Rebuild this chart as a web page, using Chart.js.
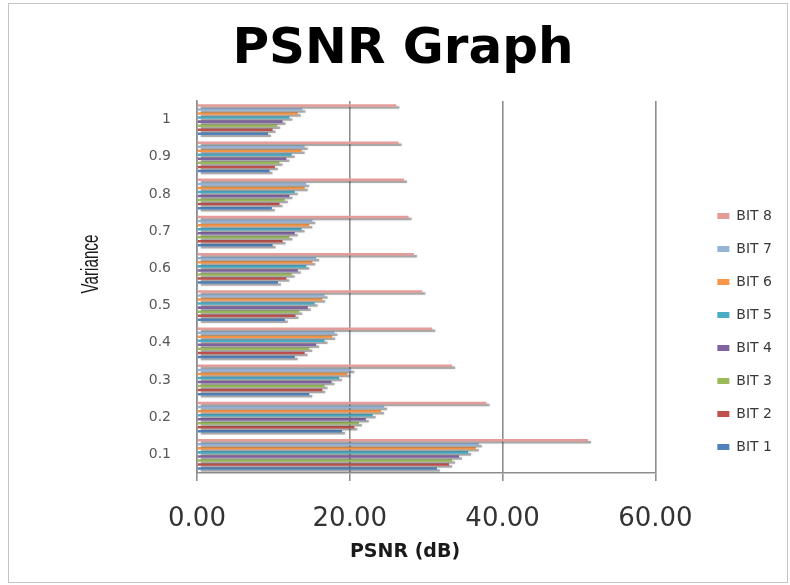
<!DOCTYPE html>
<html>
<head>
<meta charset="utf-8">
<title>PSNR Graph</title>
<script src="https://cdn.jsdelivr.net/npm/chart.js@4.4.1/dist/chart.umd.min.js"></script>
<style>
  html, body { margin: 0; padding: 0; background: #ffffff; }
  #wrap { width: 790px; height: 585px; }
</style>
</head>
<body>
<div id="wrap"><canvas id="psnr" width="790" height="585"></canvas></div>
<script>
// Noise variance levels (category axis)
const varianceLabels = ['0.1', '0.2', '0.3', '0.4', '0.5', '0.6', '0.7', '0.8', '0.9', '1'];

// PSNR in dB for each bit plane, one value per variance level
const bit1 = [31.4, 19.0, 14.7, 12.8, 11.5, 10.6, 9.9, 9.8, 9.5, 9.3];
const bit2 = [33.0, 20.6, 16.4, 14.1, 12.9, 11.7, 11.2, 10.8, 10.2, 9.9];
const bit3 = [33.4, 21.2, 16.7, 14.7, 13.4, 12.4, 12.1, 11.5, 10.8, 10.5];
const bit4 = [34.3, 22.1, 17.6, 15.6, 14.5, 13.2, 12.8, 12.1, 11.7, 11.2];
const bit5 = [35.5, 23.0, 18.6, 16.7, 15.4, 14.3, 13.7, 12.8, 12.4, 12.1];
const bit6 = [36.5, 24.1, 19.7, 17.7, 16.4, 15.1, 14.7, 14.1, 13.7, 13.2];
const bit7 = [36.9, 24.5, 20.2, 18.0, 16.7, 15.6, 15.1, 14.3, 14.1, 13.8];
const bit8 = [51.2, 37.9, 33.4, 30.8, 29.5, 28.4, 27.7, 27.1, 26.4, 26.1];

const seriesNames = ['BIT 8', 'BIT 7', 'BIT 6', 'BIT 5', 'BIT 4', 'BIT 3', 'BIT 2', 'BIT 1'];
const seriesValues = [bit8, bit7, bit6, bit5, bit4, bit3, bit2, bit1];
const seriesColors = ['#E49C9B', '#95B3D7', '#F79646', '#4BACC6', '#8064A2', '#9BBB59', '#C0504D', '#4F81BD'];

const xTitle = 'PSNR (dB)';
const yTitle = 'Variance';

// Soft drop shadow under every bar for a raised look
const barDepth = {
  id: 'barDepth',
  beforeDatasetsDraw(chart) {
    const c = chart.ctx;
    c.save();
    c.shadowColor = 'rgba(70,70,70,0.5)';
    c.shadowOffsetX = 3;
    c.shadowOffsetY = 2;
    c.shadowBlur = 1;
  },
  afterDatasetsDraw(chart) {
    chart.ctx.restore();
  }
};

// Axis titles (the vertical one in a condensed face) and a thin frame
const decorations = {
  id: 'decorations',
  afterDraw(chart) {
    const c = chart.ctx;
    c.save();
    c.strokeStyle = '#c4c4c4';
    c.lineWidth = 1;
    c.strokeRect(8.5, 3.5, 779, 579);

    c.fillStyle = '#1a1a1a';
    c.textAlign = 'center';
    c.textBaseline = 'middle';
    c.font = 'bold 19px "DejaVu Sans"';
    c.fillText(xTitle, 405, 552);

    c.translate(92, 264);
    c.rotate(-Math.PI / 2);
    c.scale(0.66, 1);
    c.font = '23px "Liberation Sans"';
    c.fillText(yTitle, 0, 0);
    c.restore();
  }
};

const datasets = seriesNames.map((name, i) => ({
  label: name,
  data: seriesValues[i],
  backgroundColor: seriesColors[i],
  borderWidth: 0,
  xAxisID: 'x',
  yAxisID: 'y',
  categoryPercentage: 0.87,
  barPercentage: 0.62
}));

new Chart(document.getElementById('psnr'), {
  type: 'bar',
  data: { labels: varianceLabels, datasets },
  plugins: [barDepth, decorations],
  options: {
    indexAxis: 'y',
    responsive: false,
    animation: false,
    layout: { padding: { left: 24, right: 8, top: 0, bottom: 0 } },
    plugins: {
      title: {
        display: true,
        text: 'PSNR Graph',
        color: '#000000',
        font: { family: 'DejaVu Sans', size: 50, weight: 'bold', lineHeight: 1.2 },
        padding: { top: 20, bottom: 21 }
      },
      legend: {
        position: 'right',
        align: 'end',
        fullSize: false,
        labels: {
          boxWidth: 12,
          boxHeight: 6,
          padding: 19,
          color: '#3a3a3a',
          font: { family: 'DejaVu Sans', size: 14 }
        }
      },
      tooltip: { enabled: false }
    },
    scales: {
      x: {
        min: 0,
        max: 60,
        ticks: {
          stepSize: 20,
          callback: v => Number(v).toFixed(2),
          color: '#333333',
          font: { family: 'DejaVu Sans', size: 26 },
          padding: 23
        },
        grid: { color: '#8e8e8e', lineWidth: 1.6, tickLength: 8 },
        border: { color: '#8e8e8e', width: 1.6 },
        afterFit(s) { s.height = 112; }
      },
      y: {
        reverse: true,
        grid: { display: false, drawTicks: false },
        border: { color: '#8e8e8e', width: 1.6 },
        ticks: {
          color: '#595959',
          font: { family: 'DejaVu Sans', size: 14 },
          padding: 26
        },
        afterFit(s) { s.width = 173; }
      },
      gap: {
        axis: 'y',
        type: 'category',
        position: 'right',
        grid: { display: false },
        border: { display: false },
        ticks: { display: false },
        afterFit(s) { s.width = 43; }
      }
    }
  }
});
</script>
</body>
</html>
